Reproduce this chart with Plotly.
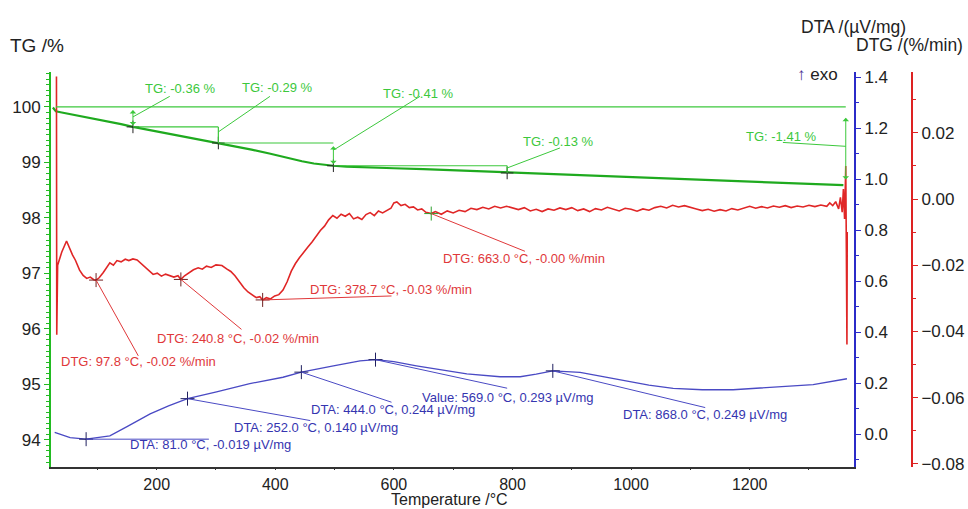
import plotly.graph_objects as go

# ---------------- data ----------------
# TG mass curve (%)
tg_temp = [25, 30, 40, 60, 80, 100, 120, 140, 160, 180, 200, 220, 240, 260, 280, 304,
           330, 360, 390, 420, 445, 465, 480, 498, 520, 550, 600, 650, 700, 750, 791,
           850, 900, 950, 1000, 1050, 1100, 1150, 1200, 1250, 1300, 1340, 1358]
tg_val = [99.99, 99.92, 99.90, 99.86, 99.81, 99.77, 99.73, 99.69, 99.64, 99.60, 99.56,
          99.52, 99.48, 99.44, 99.40, 99.35, 99.30, 99.23, 99.16, 99.08, 99.02, 98.98,
          98.96, 98.94, 98.925, 98.91, 98.895, 98.88, 98.86, 98.835, 98.81, 98.79,
          98.77, 98.75, 98.73, 98.71, 98.69, 98.68, 98.66, 98.64, 98.62, 98.60, 98.59]

# TG evaluation steps: temperatures and mass levels
tg_step_temp = [160, 304, 498, 791]
tg_step_level = [99.64, 99.35, 98.94, 98.81]
tg_start_level = 100.0
tg_end_temp = 1362
tg_end_level = 98.59

# DTG curve (%/min)
dtg_temp = [31, 31.5, 33, 40, 48, 53, 58, 63, 70, 76, 82, 88, 94, 97.8, 103, 110, 116, 121,
            127, 133, 140, 147, 153, 160, 167, 174, 181, 188, 194, 201, 208, 215, 222, 229,
            236, 240.8, 247, 255, 262, 270, 277, 284, 292, 300, 310, 318, 325, 332, 340,
            347, 354, 361, 368, 374, 378.7, 385, 392, 399, 406, 413, 420, 427, 434, 441,
            448, 455, 462, 469, 476, 483, 490, 497, 504, 511, 518, 525, 532, 539, 546,
            553, 560, 567, 574, 581, 588, 595, 600, 605, 612, 619, 626, 633, 640, 647,
            654, 663, 670, 680, 690, 700, 710, 720, 730, 740, 750, 760, 770, 780, 790,
            800, 810, 820, 830, 840, 850, 860, 870, 880, 890, 900, 910, 920, 930, 940,
            950, 960, 970, 980, 990, 1000, 1010, 1020, 1030, 1040, 1050, 1060, 1070,
            1080, 1090, 1100, 1110, 1120, 1130, 1140, 1150, 1160, 1170, 1180, 1190,
            1200, 1210, 1220, 1230, 1240, 1250, 1260, 1270, 1280, 1290, 1300, 1310,
            1320, 1330, 1335, 1340, 1345, 1350, 1353, 1356, 1358, 1360, 1362, 1363,
            1364, 1364.5]
dtg_val = [0.037, -0.041, -0.020, -0.016, -0.0127, -0.0150, -0.0169, -0.0185, -0.0215,
           -0.0231, -0.0240, -0.0236, -0.0244, -0.0245, -0.0238, -0.0222, -0.0205,
           -0.0193, -0.0200, -0.0186, -0.0190, -0.0182, -0.0186, -0.0181, -0.0184,
           -0.0195, -0.0205, -0.0218, -0.0228, -0.0224, -0.0233, -0.0227, -0.0231,
           -0.0236, -0.0232, -0.0243, -0.0232, -0.0222, -0.0214, -0.0208, -0.0212,
           -0.0203, -0.0207, -0.0199, -0.0201, -0.0211, -0.0219, -0.0232, -0.0252,
           -0.0268, -0.0281, -0.0290, -0.0298, -0.0295, -0.0305, -0.0298, -0.0302,
           -0.0293, -0.0289, -0.0275, -0.0250, -0.0218, -0.0195, -0.0177, -0.0160,
           -0.0145, -0.0130, -0.0112, -0.0095, -0.0082, -0.0063, -0.0050, -0.0058,
           -0.0046, -0.0052, -0.0044, -0.0060, -0.0055, -0.0062, -0.0047, -0.0041,
           -0.0050, -0.0036, -0.0042, -0.0035, -0.0028, -0.0012, -0.0009, -0.0020,
           -0.0016, -0.0026, -0.0024, -0.0033, -0.0030, -0.0040, -0.0044, -0.0038,
           -0.0046, -0.0036, -0.0042, -0.0034, -0.0038, -0.0028, -0.0032, -0.0025,
           -0.0030, -0.0022, -0.0027, -0.0022, -0.0028, -0.0032, -0.0026, -0.0036,
           -0.0031, -0.0038, -0.0030, -0.0034, -0.0027, -0.0032, -0.0026, -0.0035,
           -0.0030, -0.0038, -0.0029, -0.0033, -0.0025, -0.0030, -0.0036, -0.0028,
           -0.0031, -0.0037, -0.0030, -0.0034, -0.0026, -0.0022, -0.0027, -0.0019,
           -0.0024, -0.0020, -0.0026, -0.0030, -0.0035, -0.0031, -0.0037, -0.0032,
           -0.0036, -0.0029, -0.0033, -0.0027, -0.0022, -0.0028, -0.0023, -0.0027,
           -0.0021, -0.0025, -0.0020, -0.0026, -0.0021, -0.0024, -0.0019, -0.0023,
           -0.0018, -0.0022, -0.0012, -0.0020, -0.0008, -0.0030, 0.0005, -0.0040,
           0.0030, -0.0060, 0.0100, -0.0150, -0.0440, -0.0100]

# DTG peak evaluations
dtg_peak_temp = [97.8, 240.8, 378.7, 663.0]
dtg_peak_val = [-0.0245, -0.0243, -0.0305, -0.0044]

# DTA curve (µV/mg)
dta_temp = [28, 34, 54, 81, 100, 121, 150, 189, 220, 252, 301, 357, 413, 444, 498, 543,
            569, 600, 638, 680, 723, 779, 813, 840, 868, 914, 950, 987, 1030, 1071,
            1120, 1172, 1251, 1307, 1364]
dta_val = [0.008, 0.003, -0.013, -0.019, -0.014, -0.006, 0.030, 0.080, 0.112, 0.140,
           0.167, 0.199, 0.224, 0.244, 0.269, 0.288, 0.293, 0.285, 0.269, 0.252,
           0.237, 0.226, 0.226, 0.236, 0.249, 0.243, 0.228, 0.212, 0.193, 0.180,
           0.175, 0.175, 0.186, 0.195, 0.218]

# DTA evaluations
dta_peak_temp = [81.0, 252.0, 444.0, 569.0, 868.0]
dta_peak_val = [-0.019, 0.140, 0.244, 0.293, 0.249]
dta_peak_prefix = ["DTA", "DTA", "DTA", "Value", "DTA"]

# ---------------- styling ----------------
GREEN_CURVE = "#1faa1f"
GREEN_TXT = "#3cc83c"
RED = "#e02626"
RED_TXT = "#e0383a"
BLUE = "#4a4ac4"
BLUE_TXT = "#3535b0"
FONT = "Liberation Sans, Arial, sans-serif"

W, H = 968, 509
x_dom = [51 / W, 854 / W]
y_dom = [1 - 473 / H, 1 - 70 / H]

fig = go.Figure()

# DTA
fig.add_trace(go.Scatter(x=dta_temp, y=dta_val, yaxis="y2", mode="lines",
                         line=dict(color=BLUE, width=1.3), hoverinfo="skip"))
fig.add_trace(go.Scatter(x=dta_peak_temp, y=dta_peak_val, yaxis="y2", mode="markers",
                         marker=dict(symbol="cross-thin", size=10,
                                     line=dict(color="#202060", width=1)),
                         hoverinfo="skip"))
# DTG
fig.add_trace(go.Scatter(x=dtg_temp, y=dtg_val, yaxis="y3", mode="lines",
                         line=dict(color=RED, width=1.6), hoverinfo="skip"))
fig.add_trace(go.Scatter(x=dtg_peak_temp, y=dtg_peak_val, yaxis="y3", mode="markers",
                         marker=dict(symbol="cross-thin", size=10,
                                     line=dict(color=["#702020", "#702020", "#702020", "#30a030"],
                                               width=1)),
                         hoverinfo="skip"))
# TG
fig.add_trace(go.Scatter(x=tg_temp, y=tg_val, yaxis="y", mode="lines",
                         line=dict(color=GREEN_CURVE, width=2.2), hoverinfo="skip"))
fig.add_trace(go.Scatter(x=tg_step_temp, y=tg_step_level, yaxis="y", mode="markers",
                         marker=dict(symbol="cross-thin", size=9,
                                     line=dict(color="#222222", width=1)),
                         hoverinfo="skip"))

shapes = []
annotations = []


def seg(x0, y0, x1, y1, yref, color, width=1):
    shapes.append(dict(type="line", xref="x", yref=yref, x0=x0, y0=y0, x1=x1, y1=y1,
                       line=dict(color=color, width=width)))


def label(x, y, yref, text, color, size=13):
    annotations.append(dict(x=x, y=y, xref="x", yref=yref, text=text, showarrow=False,
                            font=dict(color=color, size=size, family=FONT),
                            xanchor="center", yanchor="middle"))


def double_arrow(x, y0, y1):
    annotations.append(dict(x=x, y=y1, ax=x, ay=y0, xref="x", yref="y", axref="x",
                            ayref="y", text="", showarrow=True, arrowside="end+start",
                            arrowhead=1, arrowsize=1.1, arrowwidth=1,
                            arrowcolor=GREEN_TXT, standoff=0, startstandoff=0))


# ---- TG evaluation: reference line, steps, arrows ----
seg(tg_temp[1], tg_start_level, tg_end_temp, tg_start_level, "y", GREEN_TXT, 1.2)
levels = [tg_start_level] + tg_step_level
for i, t in enumerate(tg_step_temp):
    upper = levels[i]
    lower = levels[i + 1]
    if i > 0:
        seg(tg_step_temp[i - 1], upper, t, upper, "y", GREEN_TXT, 1.2)
    if i in (0, 2):
        double_arrow(t, upper - 0.03, lower + 0.03)
    else:
        seg(t, upper, t, lower, "y", GREEN_TXT, 1.2)
double_arrow(tg_end_temp, tg_start_level - 0.17, tg_end_level + 0.1)

tg_steps = [levels[i + 1] - levels[i] for i in range(len(tg_step_temp))]
tg_total = tg_end_level - tg_start_level
tg_text_pos = [(241, 100.34), (403, 100.35), (641, 100.25), (878, 99.38), (1254, 99.47)]
tg_leader = [((160, 99.82), (222, 100.19)),
             ((304, 99.55), (391, 100.19)),
             ((498, 99.22), (644, 100.19)),
             ((791, 98.90), (880, 99.26)),
             ((1256, 99.36), (1362, 99.29))]
for k, d in enumerate(tg_steps + [tg_total]):
    (a, b), (c, e) = tg_leader[k]
    seg(a, b, c, e, "y", GREEN_TXT, 1)
    tx, ty = tg_text_pos[k]
    label(tx, ty, "y", f"TG: {d:.2f} %", GREEN_TXT)

# ---- DTG evaluations ----
dtg_text_pos = [(170, -0.0492), (337, -0.0423), (595, -0.0272), (820, -0.0181)]
dtg_leader_end = [(169, -0.0474), (343, -0.0394), (596, -0.0293), (821, -0.0158)]
for k, (t, v) in enumerate(zip(dtg_peak_temp, dtg_peak_val)):
    ex, ey = dtg_leader_end[k]
    seg(t, v, ex, ey, "y3", RED_TXT, 1)
    tx, ty = dtg_text_pos[k]
    label(tx, ty, "y3", f"DTG: {t:.1f} °C, {v:.2f} %/min", RED_TXT)

# ---- DTA evaluations ----
dta_text_pos = [(290, -0.038), (469, 0.026), (598, 0.096), (791, 0.146), (1125, 0.077)]
dta_leader_end = [(288, -0.019), (459, 0.054), (596, 0.126), (791, 0.181), (1125, 0.105)]
for k, (t, v) in enumerate(zip(dta_peak_temp, dta_peak_val)):
    ex, ey = dta_leader_end[k]
    seg(t, v, ex, ey, "y2", BLUE, 1)
    tx, ty = dta_text_pos[k]
    label(tx, ty, "y2", f"{dta_peak_prefix[k]}: {t:.1f} °C, {v:.3f} µV/mg", BLUE_TXT)


# ---- axis titles ----
def paper_text(px, py, text, anchor="center", size=17, color="#222222"):
    annotations.append(dict(x=px / W, y=1 - py / H, xref="paper", yref="paper", text=text,
                            showarrow=False, xanchor=anchor, yanchor="middle",
                            font=dict(size=size, color=color, family=FONT)))


paper_text(8, 43, "TG /%", anchor="left", size=19)
paper_text(908, 24, "DTA /(µV/mg)", anchor="right", size=17.5)
paper_text(965, 43, "DTG /(%/min)", anchor="right", size=17.5)
paper_text(795, 73, "<span style='color:#4b2f8f'>↑</span> exo", anchor="left", size=17)
paper_text(449, 506, "Temperature /°C", size=16)

tickfont = dict(size=17, color="#222222", family=FONT)

fig.update_layout(
    width=W, height=H,
    margin=dict(l=0, r=0, t=0, b=0),
    paper_bgcolor="white", plot_bgcolor="white",
    showlegend=False,
    font=dict(family=FONT),
    shapes=shapes,
    annotations=annotations,
    xaxis=dict(domain=x_dom, range=[21.8, 1375.9], showline=True, linecolor="#333333",
               linewidth=1.5, ticks="outside", ticklen=2, tickcolor="#333333",
               tick0=0, dtick=200, minor=dict(dtick=100, ticks="outside", ticklen=2,
                                              tickcolor="#333333"),
               showgrid=False, zeroline=False,
               tickfont=dict(size=16, color="#222222", family=FONT), anchor="y"),
    yaxis=dict(domain=y_dom, range=[93.516, 100.636], showline=True, linecolor="#22bb22",
               linewidth=2, ticks="outside", ticklen=5, tickcolor="#22bb22", dtick=1,
               minor=dict(dtick=0.1, ticks="outside", ticklen=3, tickcolor="#22bb22"),
               showgrid=False, zeroline=False, tickfont=tickfont, anchor="x"),
    yaxis2=dict(overlaying="y", side="right", anchor="x", range=[-0.127, 1.423],
                showline=True, linecolor="#2b2bc8", linewidth=2, ticks="outside",
                ticklen=5, tickcolor="#2b2bc8", dtick=0.2, tick0=0, tickformat=".1f",
                minor=dict(dtick=0.1, ticks="outside", ticklen=3, tickcolor="#2b2bc8"),
                showgrid=False, zeroline=False, tickfont=tickfont),
    yaxis3=dict(overlaying="y", side="right", anchor="free", position=912 / W,
                range=[-0.0809, 0.0385], showline=True, linecolor="#dd2222", linewidth=2,
                ticks="outside", ticklen=5, tickcolor="#dd2222", dtick=0.02, tick0=0,
                tickformat=".2f",
                minor=dict(dtick=0.01, ticks="outside", ticklen=3, tickcolor="#dd2222"),
                showgrid=False, zeroline=False, tickfont=tickfont),
)

fig.write_html("out.html")
